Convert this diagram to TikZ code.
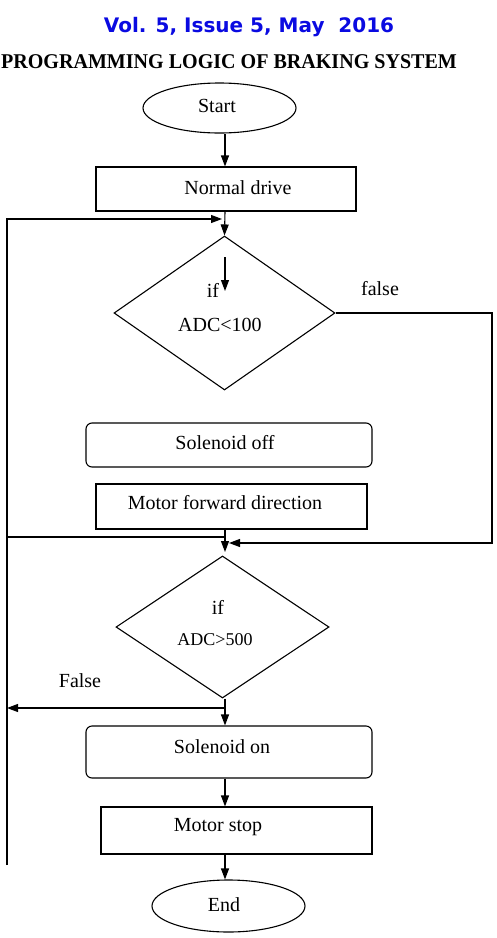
\documentclass[tikz,border=0pt]{standalone}
\usepackage{fontspec}
\setmainfont{Liberation Serif}
\newfontfamily\headfont{DejaVu Sans}
\usetikzlibrary{shapes.geometric,arrows.meta}
\definecolor{headblue}{RGB}{10,10,225}
\begin{document}
\begin{tikzpicture}[x=1pt,y=-1pt,
  line width=1.1pt,
  arr/.style={-{Triangle[length=11pt,width=8pt]}},
  txt/.style={font=\fontsize{20}{24}\selectfont, inner sep=0pt},
  stxt/.style={font=\fontsize{18}{22}\selectfont, inner sep=0pt},
  term/.style={draw, ellipse, inner sep=0pt},
  procbox/.style={draw, rectangle, inner sep=0pt},
  roundbox/.style={draw, rectangle, rounded corners=6pt, inner sep=0pt},
  decision/.style={draw, diamond, inner sep=0pt}]
\useasboundingbox (0,0) rectangle (496,938);

% headings
\node[font=\headfont\bfseries\fontsize{20}{24}\selectfont, text=headblue, inner sep=0pt] (vol) at (249,27) {Vol. 5, Issue 5, May\ \ 2016};
\node[font=\bfseries\fontsize{21}{25}\selectfont, inner sep=0pt] (title) at (229,62)
  {\scalebox{0.955}[1]{PROGRAMMING LOGIC OF BRAKING SYSTEM}};

% reference column for the main flow
\coordinate (axis) at (225,0);
\coordinate (rgt) at (492,0);

% flow elements
\node[term, minimum width=153pt, minimum height=50pt,
  label={[txt, xshift=-2.5pt, yshift=2pt]center:Start}] (start) at (219.5,108) {};
\node[procbox, minimum width=260pt, minimum height=44pt,
  label={[txt, xshift=12pt, yshift=1pt]center:Normal drive}] (normal) at (226,189) {};
\node[decision, minimum width=221pt, minimum height=154pt] (d1) at (224.5,313) {};
\node[txt] (d1if) at (213,290) {if};
\node[txt] (d1cond) at (220,325) {ADC<100};
\node[roundbox, minimum width=286pt, minimum height=44pt,
  label={[txt, xshift=-4pt, yshift=2pt]center:Solenoid off}] (soloff) at (229,445) {};
\node[procbox, minimum width=271pt, minimum height=45pt,
  label={[txt, xshift=-6.5pt, yshift=3.5pt]center:Motor forward direction}] (motorfwd) at (231.5,506.5) {};
\node[decision, minimum width=213pt, minimum height=142pt] (d2) at (222.5,627) {};
\node[txt] (d2if) at (218,607) {if};
\node[stxt] (d2cond) at (215,640) {ADC>500};
\node[roundbox, minimum width=286pt, minimum height=52pt,
  label={[txt, xshift=-7pt, yshift=5pt]center:Solenoid on}] (solon) at (229,752) {};
\node[procbox, minimum width=271pt, minimum height=47pt,
  label={[txt, xshift=-18.5pt, yshift=3.5pt]center:Motor stop}] (stop) at (236.5,830.5) {};
\node[term, minimum width=153pt, minimum height=52pt,
  label={[txt, xshift=-4.5pt, yshift=1pt]center:End}] (end) at (228.5,906) {};

% branch labels
\node[txt] (lfalse1) at (380,289) {false};
\node[txt] (lfalse2) at (80,681) {False};

% connector anchors
\coordinate (loopbot) at (7,865);
\coordinate (loopin) at (222,219);
\coordinate (inA) at (225,257);
\coordinate (inB) at (225,291);
\coordinate (fmerge) at (229,543);
\coordinate (join) at (225,537);
\coordinate (d2in) at (225,552);
\coordinate (split) at (225,708);
\coordinate (back) at (7,708);

% main flow
\draw[arr] (start.south -| axis) -- (normal.north -| axis);
\draw[arr] (normal.south -| axis) -- (d1.north);
\draw[arr] (inA) -- (inB);
\draw[arr] (motorfwd.south -| axis) -- (d2in);
\draw[arr] (d2.south -| axis) -- (solon.north -| axis);
\draw[arr] (solon.south -| axis) -- (stop.north -| axis);
\draw[arr] (stop.south -| axis) -- (end.north -| axis);

% loop back to the first decision
\draw[arr] (loopbot) |- (loopin);
\draw (loopbot |- join) -- (join);

% false branch of the first decision
\draw[arr] (d1.east) -- (d1.east -| rgt) -- (rgt |- fmerge) -- (fmerge);

% false branch of the second decision
\draw[arr] (split) -- (back);
\end{tikzpicture}
\end{document}
